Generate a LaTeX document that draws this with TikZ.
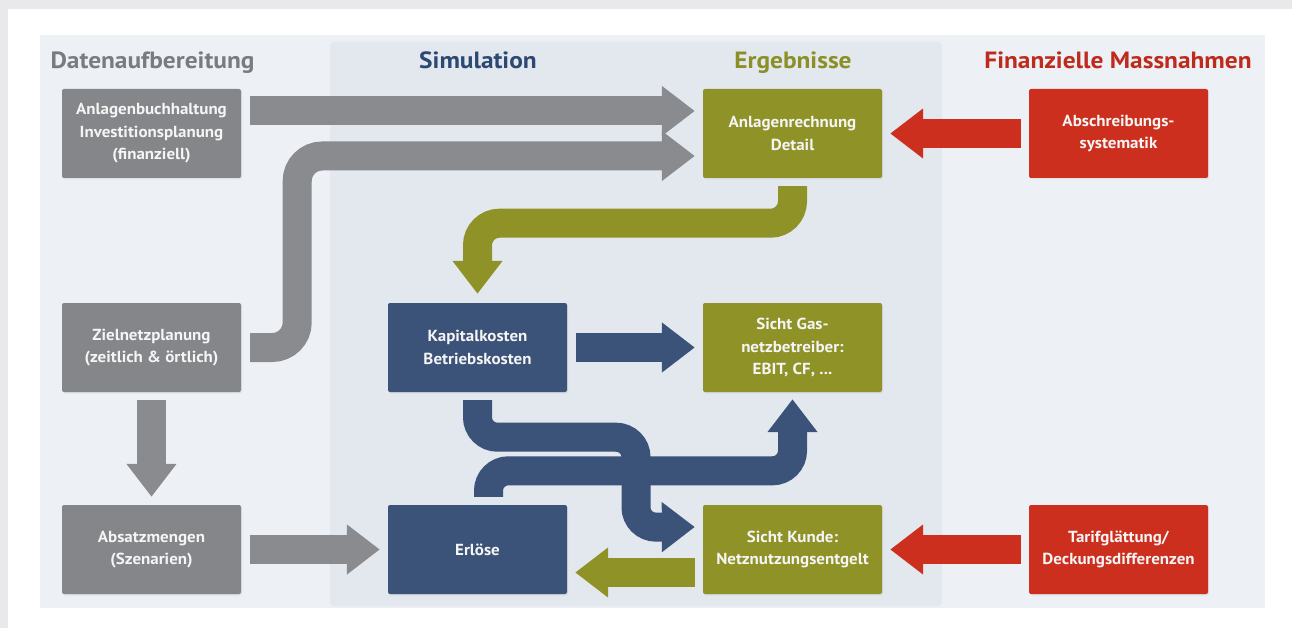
\documentclass[tikz,border=0pt]{standalone}
\usepackage{fontspec}
\setmainfont{PT Sans}
\newfontfamily\headfont[FakeStretch=1.08]{PT Sans}
\newfontfamily\boxfont[FakeStretch=1.06]{PT Sans}
\usetikzlibrary{arrows.meta,calc,shadows}
\definecolor{bggray}{HTML}{E9E9EB}
\definecolor{panel}{HTML}{EDF1F5}
\definecolor{simpanel}{HTML}{E3E8EF}
\definecolor{cgray}{HTML}{858689}
\definecolor{agray}{HTML}{8A8B8F}
\definecolor{cblue}{HTML}{3B5279}
\definecolor{colive}{HTML}{8E9227}
\definecolor{cred}{HTML}{CC2F1E}
\definecolor{hgray}{HTML}{7A7B7E}
\definecolor{hblue}{HTML}{2C4874}
\definecolor{holive}{HTML}{8A8F26}
\definecolor{hred}{HTML}{BE2A1C}
\begin{document}
\begin{tikzpicture}[x=1pt,y=-1pt,
  box/.style={minimum width=179pt,minimum height=89pt,rounded corners=2pt,text=white!96!black,
    align=center,font=\boxfont\bfseries\fontsize{16}{22.5}\selectfont,inner sep=0pt,
    drop shadow={opacity=0.12,shadow xshift=1pt,shadow yshift=-1.5pt}},
  head/.style={font=\headfont\bfseries\fontsize{23.5}{26}\selectfont,anchor=base},
  flow/.style={line width=29pt,-{Triangle[length=33pt,width=48pt]}},
]
\useasboundingbox (0,0) rectangle (1292,628);
% backgrounds
\fill[white] (0,0) rectangle (1292,628);
\fill[bggray] (0,0) rectangle (1292,9);
\fill[bggray] (0,0) rectangle (8,628);
\fill[panel] (40,35) rectangle (1265,608);
\fill[simpanel,rounded corners=4pt] (330,42) rectangle (942,606);

% headings
\node[head,text=hgray,anchor=base west] (h1) at (47,69) {Datenaufbereitung};
\node[head,text=hblue] (h2) at (478,69) {Simulation};
\node[head,text=holive] (h3) at (793,69) {Ergebnisse};
\node[head,text=hred] (h4) at (1118,69) {Finanzielle Massnahmen};

% boxes
\node[box,fill=cgray] (anl) at (151.5,133.5) {Anlagenbuchhaltung\\Investitionsplanung\\(finanziell)};
\node[box,fill=cgray] (ziel) at (151.5,347.5) {Zielnetzplanung\\(zeitlich \& örtlich)};
\node[box,fill=cgray] (abs) at (151.5,549.5) {Absatzmengen\\(Szenarien)};
\node[box,fill=cblue] (kap) at (477.5,347.5) {Kapitalkosten\\Betriebskosten};
\node[box,fill=cblue] (erl) at (477.5,549.5) {Erlöse};
\node[box,fill=colive] (anr) at (792.5,133.5) {Anlagenrechnung\\Detail};
\node[box,fill=colive] (gas) at (792.5,347.5) {Sicht Gas-\\netzbetreiber:\\EBIT, CF, ...};
\node[box,fill=colive] (kun) at (792.5,549.5) {Sicht Kunde:\\Netznutzungsentgelt};
\node[box,fill=cred] (abh) at (1118.5,133.5) {Abschreibungs-\\systematik};
\node[box,fill=cred] (tar) at (1118.5,549.5) {Tarifglättung/\\Deckungsdifferenzen};

% connectors
\draw[flow,agray] ($(anl.east)+(9,-22.5)$) -- ($(anr.west)+(-8,-22.5)$);
\draw[flow,agray,rounded corners=25pt] ($(ziel.east)+(9,0)$) -- ++(47,0) |- ($(anr.west)+(-8,22.5)$);
\draw[flow,agray] ($(ziel.south)+(0,8)$) -- ($(abs.north)+(0,-8)$);
\draw[flow,agray] ($(abs.east)+(9,0)$) -- ($(erl.west)+(-8,0)$);
\draw[flow,colive,rounded corners=22pt] ($(anr.south)+(0,8)$) -- ++(0,37) -| ($(kap.north)+(0,-9)$);
\draw[flow,cblue] ($(kap.east)+(9,0)$) -- ($(gas.west)+(-8,0)$);
\draw[flow,cblue,rounded corners=20pt] ($(kap.south)+(0,8)$) -- ++(0,37) -- ++(158.5,0) -- ++(0,90) -- ($(kun.west)+(-8,-22.5)$);
\draw[flow,cblue,rounded corners=20pt] ($(erl.north)+(11,-8)$) -- ++(0,-26) -| ($(gas.south)+(0,7)$);
\draw[flow,colive] ($(kun.west)+(-8,23)$) -- ($(erl.east)+(8,23)$);
\draw[flow,cred] ($(abh.west)+(-8,0)$) -- ($(anr.east)+(8,0)$);
\draw[flow,cred] ($(tar.west)+(-8,0)$) -- ($(kun.east)+(8,0)$);
\end{tikzpicture}
\end{document}
